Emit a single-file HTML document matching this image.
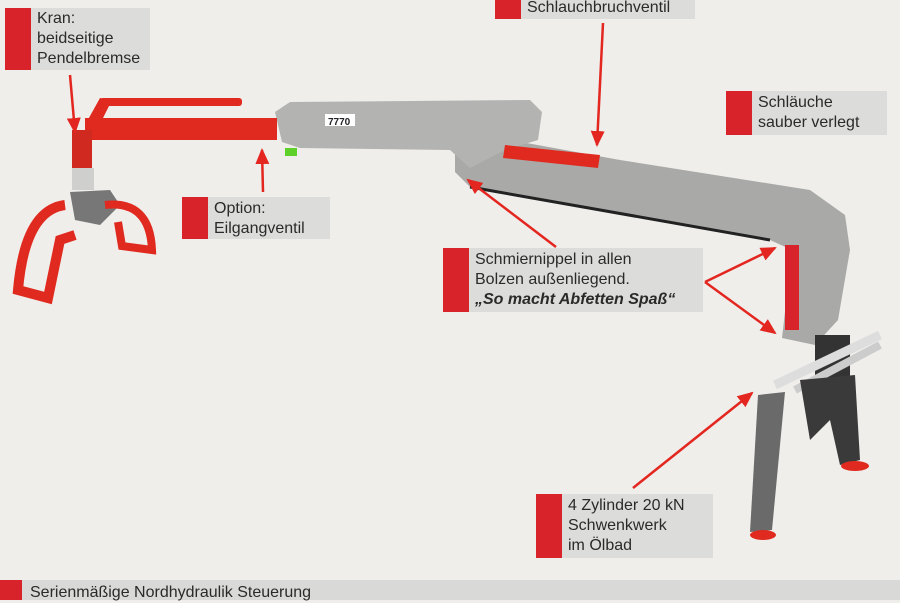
<!DOCTYPE html>
<html><head><meta charset="utf-8"><style>
html,body{margin:0;padding:0;background:#efeeeb;}
body{width:900px;height:600px;position:relative;overflow:hidden;font-family:"Liberation Sans",sans-serif;}
.lb{position:absolute;background:#dcdcdb;color:#2a2a2a;font-size:16px;line-height:20px;}
.lb .r{position:absolute;left:0;top:0;bottom:0;width:26px;background:#d9232a;}
.lb .t{padding:0 4px 0 32px;}
svg{position:absolute;left:0;top:0;}
</style></head><body>
<svg width="900" height="600" viewBox="0 0 900 600">
<defs><marker id="a" markerWidth="8" markerHeight="8" refX="6" refY="4" orient="auto" markerUnits="userSpaceOnUse"><path d="M0,0 L8,4 L0,8 Z" fill="#e3261f"/></marker>
<marker id="b" markerWidth="16" markerHeight="14" refX="14" refY="7" orient="auto" markerUnits="userSpaceOnUse"><path d="M0,0 L16,7 L0,14 Z" fill="#e3261f"/></marker></defs>
<!-- main diagonal boom -->
<polygon points="455,150 510,140 620,160 810,190 845,215 850,250 838,320 815,345 782,338 792,250 770,240 600,210 470,187 455,172" fill="#a9a9a7"/>
<line x1="470" y1="187" x2="770" y2="240" stroke="#222" stroke-width="3"/>
<!-- top box -->
<polygon points="275,112 290,102 530,100 542,112 538,140 505,150 470,168 450,150 300,148 282,142" fill="#b3b3b1"/>
<rect x="325" y="114" width="30" height="12" fill="#fff"/><text x="328" y="125" font-size="10" font-weight="bold" fill="#222">7770</text>
<rect x="285" y="148" width="12" height="8" fill="#5fd02a"/>
<!-- red extension -->
<rect x="85" y="118" width="192" height="22" fill="#e02a1f"/>
<rect x="100" y="98" width="142" height="8" rx="3" fill="#e02a1f"/>
<polygon points="85,125 100,98 112,100 98,128" fill="#e02a1f"/>
<rect x="72" y="130" width="20" height="40" fill="#d02a20"/>
<!-- red cylinders -->
<polygon points="505,145 600,155 598,168 503,158" fill="#e02a1f"/>
<rect x="785" y="245" width="14" height="85" fill="#d9232a"/>
<!-- grapple -->
<rect x="72" y="168" width="22" height="22" fill="#cfcfcd"/>
<polygon points="70,192 110,190 120,205 100,225 75,220" fill="#777"/>
<path d="M65,205 Q25,210 18,290 L48,298 L60,240 L75,235" fill="none" stroke="#e02a1f" stroke-width="10"/>
<path d="M105,205 Q150,200 152,250 L122,246 L118,222" fill="none" stroke="#e02a1f" stroke-width="8"/>
<!-- base -->
<rect x="815" y="335" width="35" height="45" fill="#333"/>
<line x1="775" y1="385" x2="880" y2="335" stroke="#ddd" stroke-width="9"/>
<line x1="795" y1="390" x2="880" y2="345" stroke="#ccc" stroke-width="8"/>
<polygon points="758,395 785,392 772,530 750,532" fill="#6a6a6a"/>
<polygon points="800,380 855,375 860,460 840,465 830,420 810,440" fill="#3a3a3a"/>
<ellipse cx="763" cy="535" rx="13" ry="5" fill="#e02a1f"/>
<ellipse cx="855" cy="466" rx="14" ry="5" fill="#e02a1f"/>
<!-- arrows -->
<g stroke="#e3261f" stroke-width="2.5" fill="none">
<line x1="70" y1="75" x2="75" y2="132" marker-end="url(#b)"/>
<line x1="263" y1="192" x2="262" y2="150" marker-end="url(#b)"/>
<line x1="603" y1="23" x2="597" y2="145" marker-end="url(#b)"/>
<line x1="556" y1="247" x2="468" y2="180" marker-end="url(#b)"/>
<line x1="705" y1="282" x2="775" y2="248" marker-end="url(#b)"/>
<line x1="705" y1="282" x2="775" y2="333" marker-end="url(#b)"/>
<line x1="633" y1="488" x2="752" y2="393" marker-end="url(#b)"/>
</g>
</svg>
<div class="lb" style="left:5px;top:8px;width:145px;height:62px;"><div class="r"></div><div class="t" style="padding-top:1px">Kran:<br>beidseitige<br>Pendelbremse</div></div>
<div class="lb" style="left:495px;top:-2px;width:200px;height:21px;"><div class="r"></div><div class="t">Schlauchbruchventil</div></div>
<div class="lb" style="left:726px;top:91px;width:161px;height:44px;"><div class="r"></div><div class="t" style="padding-top:2px">Schläuche<br>sauber verlegt</div></div>
<div class="lb" style="left:182px;top:197px;width:148px;height:42px;"><div class="r"></div><div class="t" style="padding-top:2px">Option:<br>Eilgangventil</div></div>
<div class="lb" style="left:443px;top:248px;width:260px;height:64px;"><div class="r"></div><div class="t" style="padding-top:2px">Schmiernippel in allen<br>Bolzen außenliegend.<br><b><i>„So macht Abfetten Spaß“</i></b></div></div>
<div class="lb" style="left:536px;top:494px;width:177px;height:64px;"><div class="r"></div><div class="t" style="padding-top:2px">4 Zylinder 20 kN<br>Schwenkwerk<br>im Ölbad</div></div>
<div class="lb" style="left:0;top:580px;width:900px;height:20px;background:#d9d9d8;"><div class="r" style="width:22px"></div><div class="t" style="padding-left:30px;padding-top:3px">Serienmäßige Nordhydraulik Steuerung</div></div>
</body></html>
